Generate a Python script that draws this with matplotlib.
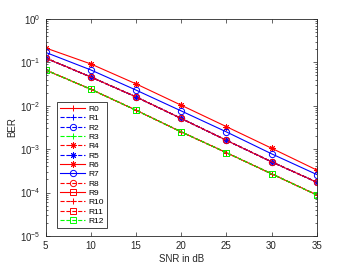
import numpy as np
import matplotlib.pyplot as plt

# SNR points and BER curves
snr = [5, 10, 15, 20, 25, 30, 35]
ber_top = [0.215, 0.092, 0.032, 0.0103, 0.0033, 0.00105, 0.00033]
ber_second = [0.17, 0.067, 0.023, 0.0076, 0.0025, 0.00078, 0.00026]
ber_third = [0.126, 0.046, 0.016, 0.0051, 0.0016, 0.00051, 0.000173]
ber_fourth = [0.067, 0.024, 0.0079, 0.0025, 0.00083, 0.00027, 0.000088]

labels = ['R0', 'R1', 'R2', 'R3', 'R4', 'R5', 'R6', 'R7', 'R8', 'R9', 'R10', 'R11', 'R12']
curves = [ber_third, ber_third, ber_third, ber_fourth, ber_third, ber_third, ber_top,
          ber_second, ber_third, ber_fourth, ber_fourth, ber_fourth, ber_fourth]
colors = ['r', 'b', 'b', 'g', 'r', 'b', 'r', 'b', 'r', 'r', 'r', 'r', 'g']
lstyles = ['-', '--', '--', '--', '--', '--', '-', '-', '--', '-', '--', '--', '--']
markers = ['+', '+', 'o', '+', '*', '*', '*', 'o', 'o', 's', '+', 's', 's']

# matlab style pure colours and asterisk marker
rgb = {'r': (1, 0, 0), 'b': (0, 0, 1), 'g': (0, 1, 0)}
mk = {'+': '+', 'o': 'o', 's': 's', '*': (8, 2, 0)}

plt.rcParams['font.family'] = ['Liberation Sans', 'DejaVu Sans']
fig = plt.figure(figsize=(3.5, 2.63), dpi=100)
ax = fig.add_axes([0.13, 0.103, 0.775, 0.825])

for lab, y, c, ls, m in zip(labels, curves, colors, lstyles, markers):
    ax.semilogy(snr, y, color=rgb[c], linestyle=ls, marker=mk[m], label=lab,
                linewidth=0.8, markersize=4.5, markerfacecolor='none',
                markeredgewidth=0.7)

ax.set_xlim(5, 35)
ax.set_ylim(1e-5, 1)
ax.set_xticks([5, 10, 15, 20, 25, 30, 35])
ax.set_yticks([1e-5, 1e-4, 1e-3, 1e-2, 1e-1, 1])
ax.tick_params(which='both', direction='in', top=True, right=True, labelsize=7,
               labelcolor='#262626', width=0.5, color='#262626')
ax.tick_params(which='major', length=3)
ax.tick_params(which='minor', length=1.5)
for s in ax.spines.values():
    s.set_linewidth(0.6)
    s.set_color('#262626')
ax.set_xlabel('SNR in dB', fontsize=7, color='#262626', labelpad=2)
ax.set_ylabel('BER', fontsize=7, color='#262626', labelpad=2)

leg = ax.legend(loc='lower left', fontsize=6, handlelength=3, handletextpad=0.4,
                labelspacing=0.18, borderpad=0.35, borderaxespad=0, fancybox=False,
                framealpha=1, edgecolor='#262626', bbox_to_anchor=(0.044, 0.037))
leg.get_frame().set_linewidth(0.6)

fig.savefig('out.png', dpi=100)
